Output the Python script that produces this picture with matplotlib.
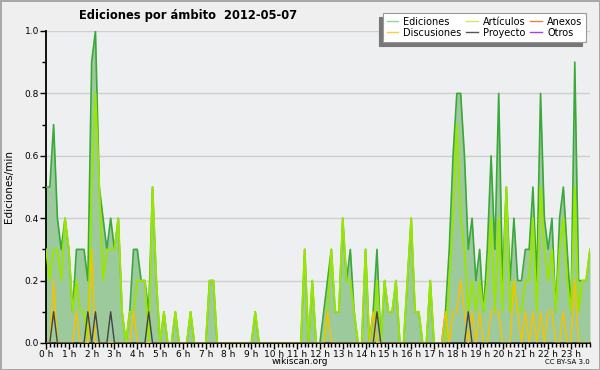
import numpy as np
import matplotlib
matplotlib.use("Agg")
import matplotlib.pyplot as plt
from matplotlib.ticker import MultipleLocator, FixedLocator, FormatStrFormatter

# ================== DATOS (ediciones/min, tramos de 10 min) ==================
ediciones = [
    0.5, 0.5, 0.7, 0.4, 0.3, 0.4, 0.3, 0.1, 0.3, 0.3, 0.3, 0.2,
    0.9, 1.0, 0.5, 0.4, 0.3, 0.4, 0.3, 0.4, 0.1, 0, 0.1, 0.3,
    0.3, 0.2, 0.2, 0.1, 0.5, 0.2, 0, 0.1, 0, 0, 0.1, 0,
    0, 0, 0.1, 0, 0, 0, 0, 0.2, 0.2, 0, 0, 0,
    0, 0, 0, 0, 0, 0, 0, 0.1, 0, 0, 0, 0,
    0, 0, 0, 0, 0, 0, 0, 0, 0.3, 0, 0.2, 0,
    0, 0.1, 0.2, 0.3, 0.1, 0.1, 0.4, 0.2, 0.3, 0.1, 0, 0,
    0.3, 0, 0.1, 0.3, 0, 0.2, 0.1, 0.1, 0.2, 0, 0, 0.2,
    0.4, 0.1, 0.1, 0, 0, 0.2, 0, 0, 0, 0.1, 0.3, 0.6,
    0.8, 0.8, 0.6, 0.3, 0.4, 0.2, 0.3, 0.1, 0.3, 0.6, 0.3, 0.8,
    0.2, 0.5, 0.2, 0.4, 0.2, 0.2, 0.3, 0.3, 0.5, 0.2, 0.8, 0.4,
    0.3, 0.4, 0.1, 0.4, 0.5, 0.3, 0.1, 0.9, 0.2, 0.2, 0.2, 0.3,
]

articulos = [
    0.3, 0.2, 0.3, 0.3, 0.2, 0.4, 0.3, 0.1, 0.2, 0.1, 0.1, 0,
    0.5, 0.8, 0.5, 0.2, 0.3, 0.3, 0.3, 0.4, 0.1, 0, 0.1, 0.1,
    0.2, 0.2, 0.2, 0, 0.5, 0.2, 0, 0.1, 0, 0, 0.1, 0,
    0, 0, 0.1, 0, 0, 0, 0, 0.2, 0.2, 0, 0, 0,
    0, 0, 0, 0, 0, 0, 0, 0.1, 0, 0, 0, 0,
    0, 0, 0, 0, 0, 0, 0, 0, 0.3, 0, 0.2, 0,
    0, 0, 0.1, 0.3, 0.1, 0.1, 0.4, 0.2, 0.2, 0.1, 0, 0,
    0.3, 0, 0, 0.2, 0, 0.2, 0.1, 0.1, 0.2, 0, 0, 0.2,
    0.4, 0.1, 0.1, 0, 0, 0.2, 0, 0, 0, 0, 0.2, 0.4,
    0.7, 0.4, 0.3, 0.1, 0.2, 0.1, 0.2, 0.1, 0.2, 0.4, 0.1, 0.4,
    0.1, 0.5, 0.1, 0.2, 0.1, 0.1, 0.2, 0.2, 0.4, 0.1, 0.5, 0.3,
    0.2, 0.3, 0.1, 0.3, 0.4, 0.2, 0.1, 0.5, 0.1, 0.2, 0.2, 0.3,
]

discusiones = [
    0, 0, 0.2, 0, 0, 0, 0, 0, 0.1, 0, 0, 0,
    0.3, 0, 0, 0, 0, 0, 0, 0, 0, 0, 0, 0.1,
    0, 0, 0, 0, 0, 0, 0, 0, 0, 0, 0, 0,
    0, 0, 0, 0, 0, 0, 0, 0, 0, 0, 0, 0,
    0, 0, 0, 0, 0, 0, 0, 0, 0, 0, 0, 0,
    0, 0, 0, 0, 0, 0, 0, 0, 0, 0, 0, 0,
    0, 0, 0.1, 0, 0, 0, 0, 0, 0, 0, 0, 0,
    0, 0, 0.1, 0, 0, 0, 0, 0, 0, 0, 0, 0,
    0, 0, 0, 0, 0, 0, 0, 0, 0, 0.1, 0, 0.1,
    0.1, 0.2, 0.1, 0, 0.1, 0, 0.1, 0, 0, 0.1, 0.1, 0.1,
    0, 0, 0, 0.2, 0.1, 0, 0.1, 0, 0.1, 0, 0.1, 0,
    0.1, 0.1, 0, 0, 0.1, 0, 0, 0.2, 0, 0, 0, 0,
]

proyecto = [0.0] * 144
for i in [2, 11, 13, 17, 27, 87, 111]:
    proyecto[i] = 0.1

anexos = [0.0] * 144
otros = [0.0] * 144

horas = [f"{h} h" for h in range(24)]

# ================== GRAFICO ==================
x = np.arange(len(ediciones)) / 6.0

fig = plt.figure(figsize=(6, 3.7), dpi=100, facecolor="#efefef")
fig.patch.set_edgecolor("#a8a8a8")
fig.patch.set_linewidth(2)
ax = fig.add_axes([46 / 600, 1 - 343 / 370, (590 - 46) / 600, (343 - 31) / 370])
ax.set_facecolor("#eeeff1")

ax.fill_between(x, ediciones, 0, color="#9dca9d", lw=0, zorder=2)
l_anexos, = ax.plot(x, anexos, color="#f07840", lw=1, zorder=3)
l_otros, = ax.plot(x, otros, color="#a040e8", lw=1, zorder=3)
l_edic, = ax.plot(x, ediciones, color="#3aa83a", lw=1.2, zorder=4)
l_art, = ax.plot(x, articulos, color="#99e600", lw=1.4, zorder=5)
l_disc, = ax.plot(x, discusiones, color="#f2c400", lw=1.1, zorder=6)
l_proy, = ax.plot(x, proyecto, color="#444444", lw=1.0, zorder=7)

ax.set_xlim(0, x[-1])
ax.set_ylim(0, 1.0)

ax.xaxis.set_major_locator(FixedLocator(range(24)))
ax.set_xticklabels(horas)
ax.xaxis.set_minor_locator(MultipleLocator(1 / 6))
ax.yaxis.set_major_locator(MultipleLocator(0.2))
ax.yaxis.set_minor_locator(MultipleLocator(0.1))
ax.yaxis.set_major_formatter(FormatStrFormatter("%.1f"))
ax.tick_params(axis="both", which="major", labelsize=6.5, length=4, width=1,
               color="black", pad=1)
ax.tick_params(axis="both", which="minor", length=3, width=1, color="black")

for s in ["top", "right"]:
    ax.spines[s].set_visible(False)
for s in ["left", "bottom"]:
    ax.spines[s].set_linewidth(1.3)

ax.yaxis.grid(True, which="major", color="#cfcfcf", lw=1)
ax.set_axisbelow(True)

ax.set_ylabel("Ediciones/min", fontsize=7.5, labelpad=8)

fig.text(188 / 600, 1 - 15 / 370, "Ediciones por ámbito  2012-05-07",
         ha="center", va="center", fontsize=8.3, fontweight="bold")
fig.text(300 / 600, 1 - 362 / 370, "wikiscan.org", ha="center", va="center",
         fontsize=6.5)
fig.text(590 / 600, 1 - 362 / 370, "CC BY-SA 3.0", ha="right", va="center",
         fontsize=5)

labels = ["Ediciones", "Discusiones", "Artículos", "Proyecto", "Anexos", "Otros"]
leg_handles = [plt.Line2D([], [], color=c, lw=1) for c in
               ["#8fd88f", "#f8d040", "#c8f050", "#555555", "#f08040", "#a040f0"]]
leg = fig.legend(leg_handles, labels, ncol=3, loc="upper right",
                 bbox_to_anchor=(591 / 600, 1 - 8 / 370), fontsize=7,
                 frameon=True, fancybox=False,
                 shadow={"ox": -3, "oy": -3, "color": "#777777", "alpha": 1},
                 handlelength=1.2, handletextpad=0.5, columnspacing=0.5,
                 labelspacing=0.1, borderpad=0.4)
leg.get_frame().set_edgecolor("#999999")
leg.get_frame().set_linewidth(0.8)

fig.savefig("out.png", dpi=100, facecolor=fig.get_facecolor(),
            edgecolor=fig.patch.get_edgecolor())
